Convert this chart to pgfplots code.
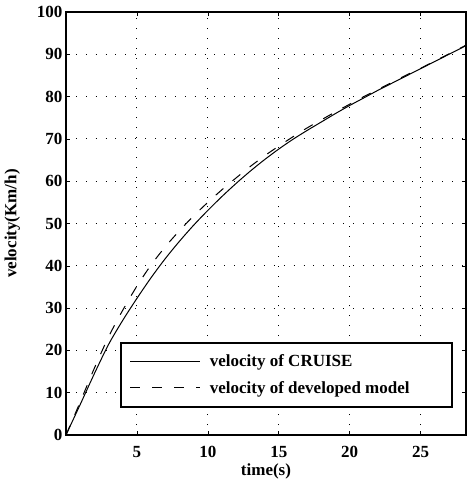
\documentclass[border=0pt]{standalone}
\usepackage{fontspec}
\setmainfont{Liberation Serif}
\usepackage{pgfplots}
\pgfplotsset{compat=1.18}
\begin{document}
\begin{tikzpicture}
\begin{axis}[
  scale only axis,
  width=400pt, height=423pt,
  xmin=0, xmax=28.2, ymin=0, ymax=100,
  xtick={5,10,15,20,25},
  ytick={0,10,...,100},
  tick align=inside,
  major tick length=4pt,
  tick style={black, line width=0.6pt},
  axis line style={line width=1.3pt},
  grid=major,
  major grid style={black, line width=0.9pt, dash pattern=on 0.9pt off 9pt},
  font=\fontsize{17}{20}\selectfont\bfseries,
  tick label style={font=\fontsize{17}{20}\selectfont\bfseries},
  xticklabel style={yshift=-8pt},
  /pgf/number format/assume math mode=true,
  xlabel={time(s)},
  ylabel={velocity(Km/h)},
  xlabel style={yshift=1pt},
  ylabel style={yshift=10pt},
  legend cell align=left,
  legend style={at={(rel axis cs:0.1350,0.065)}, anchor=south west,
    draw=black, line width=1.8pt, inner xsep=9pt, inner ysep=10pt,
    font=\fontsize{17}{20}\selectfont\bfseries,
    row sep=9pt,
    /tikz/every odd column/.append style={column sep=7pt}},
  legend image code/.code={\draw[#1, line width=1pt] (0pt,0pt) -- (70pt,0pt);},
]
\addplot[black, line width=1pt, smooth] coordinates {
(0,0) (1,7.2) (2,14.5) (3,21.4) (4,27.1) (5,32.3) (6,37.2) (7,41.7) (8,45.8)
(9,49.6) (10,53.1) (11,56.4) (12,59.5) (13,62.4) (14,65.1) (15,67.6) (16,69.9)
(17,72.0) (18,74.0) (19,76.0) (20,77.9) (21,79.7) (22,81.5) (23,83.2) (24,84.9)
(25,86.6) (26,88.3) (27,90.0) (28,91.7) (28.2,92.1)
};
\addlegendentry{\makebox[231pt][l]{velocity of CRUISE}}
\addplot[black, line width=1pt, smooth, dash pattern=on 10pt off 12pt] coordinates {
(0,0) (1,7.8) (2,15.8) (3,23.2) (4,29.5) (5,35.2) (6,40.2) (7,44.5) (8,48.3)
(9,51.8) (10,55) (11,58) (12,60.8) (13,63.5) (14,66) (15,68.3) (16,70.5)
(17,72.6) (18,74.5) (19,76.4) (20,78.2) (21,80) (22,81.7) (23,83.4) (24,85.1)
(25,86.7) (26,88.4) (27,90.1) (28,91.8) (28.2,92.2)
};
\addlegendentry{\makebox[231pt][l]{velocity of developed model}}
\end{axis}
\path (current axis.south west) ++(-66pt,-48pt) (current axis.north east) ++(1pt,12pt);
\end{tikzpicture}
\end{document}
